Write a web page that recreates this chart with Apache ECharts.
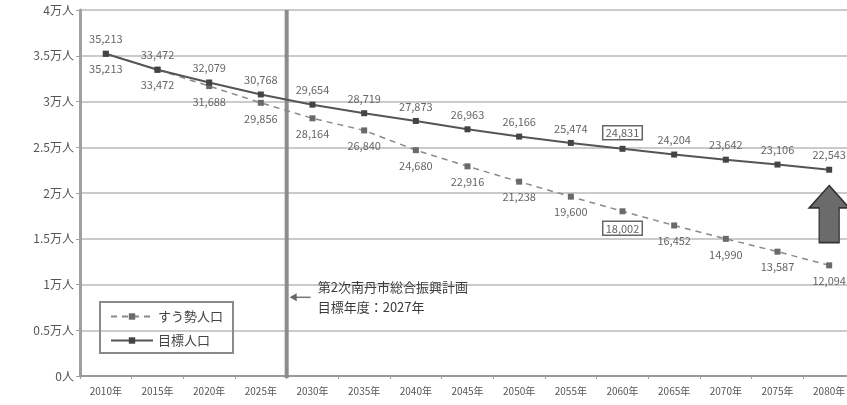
<!DOCTYPE html>
<html>
<head>
<meta charset="utf-8">
<script src="https://cdn.jsdelivr.net/npm/echarts@6/dist/echarts.min.js"></script>
<style>
  html, body { margin: 0; padding: 0; background: #fff; overflow: hidden; }
  #chart { width: 855px; height: 405px; }
</style>
</head>
<body>
<div id="chart"></div>
<script>
// Population outlook, 2010-2080 (the plot runs slightly past the page's right edge)
const years = ['2010年','2015年','2020年','2025年','2030年','2035年','2040年','2045年','2050年','2055年','2060年','2065年','2070年','2075年','2080年'];
const trendPop  = [35213, 33472, 31688, 29856, 28164, 26840, 24680, 22916, 21238, 19600, 18002, 16452, 14990, 13587, 12094];
const targetPop = [35213, 33472, 32079, 30768, 29654, 28719, 27873, 26963, 26166, 25474, 24831, 24204, 23642, 23106, 22543];
const yTickLabels = ['0人','0.5万人','1万人','1.5万人','2万人','2.5万人','3万人','3.5万人','4万人'];
const trendName = 'すう勢人口';
const targetName = '目標人口';
const planTitle = ['第2次南丹市総合振興計画', '目標年度：2027年'];
const highlightYear = '2060年';
const planBoundary = ['2025年', '2030年'];
const planNoteValue = 8600;
const arrowValue = 17700;

const FONT = '"Noto Sans CJK JP", "Noto Sans", sans-serif';
const fmt = v => v.toLocaleString('en-US');

function labelled(values) {
  return values.map((v, i) => {
    const item = { value: v };
    if (years[i] === highlightYear) {
      item.label = { borderColor: '#666', borderWidth: 1.5, padding: [2, 3, 1, 3] };
    }
    return item;
  });
}

const chart = echarts.init(document.getElementById('chart'), null, { renderer: 'canvas' });

chart.setOption({
  animation: false,
  textStyle: { fontFamily: FONT },
  grid: { left: 80, right: 0, top: 10, bottom: 29, containLabel: false },
  legend: {
    orient: 'vertical',
    left: 100, top: 302,
    width: 132, height: 58,
    padding: [8, 10, 6, 10],
    itemGap: 11,
    itemWidth: 42, itemHeight: 8,
    borderColor: '#8a8a8a', borderWidth: 2,
    textStyle: { fontFamily: FONT, fontSize: 13, color: '#444' },
    data: [trendName, targetName]
  },
  xAxis: {
    type: 'category',
    data: years,
    boundaryGap: true,
    axisLine: { lineStyle: { color: '#9a9a9a', width: 2 } },
    axisTick: { show: true, length: 3, lineStyle: { color: '#9a9a9a' } },
    axisLabel: { fontFamily: FONT, fontSize: 10, color: '#555', margin: 10 }
  },
  yAxis: {
    type: 'value',
    min: 0, max: 40000, interval: 5000,
    axisLine: { show: true, lineStyle: { color: '#a0a0a0', width: 3 } },
    axisTick: { show: true, length: 4, lineStyle: { color: '#a0a0a0', width: 1 } },
    axisLabel: {
      fontFamily: FONT, fontSize: 12, color: '#555', margin: 6,
      formatter: v => yTickLabels[Math.round(v / 5000)]
    },
    splitLine: { lineStyle: { color: '#cbcbcb', width: 2 } }
  },
  series: [
    {
      name: trendName,
      type: 'line',
      data: labelled(trendPop),
      symbol: 'rect', symbolSize: 6,
      itemStyle: { color: '#6a6a6a' },
      lineStyle: { color: '#8a8a8a', width: 1.5, type: [6, 5] },
      label: {
        show: true, position: 'bottom', distance: 7,
        fontFamily: FONT, fontSize: 11, color: '#666',
        formatter: p => fmt(p.value)
      },
      z: 3
    },
    {
      name: targetName,
      type: 'line',
      data: labelled(targetPop),
      symbol: 'rect', symbolSize: 6,
      itemStyle: { color: '#444' },
      lineStyle: { color: '#555', width: 2 },
      label: {
        show: true, position: 'top', distance: 6,
        fontFamily: FONT, fontSize: 11, color: '#666',
        formatter: p => fmt(p.value)
      },
      markPoint: {
        silent: true,
        symbol: 'path://M20,0 L40,22 L30,22 L30,56 L10,56 L10,22 L0,22 Z',
        symbolSize: [40, 57],
        symbolKeepAspect: false,
        itemStyle: { color: '#6b6b6b', borderColor: '#333', borderWidth: 1.5 },
        label: { show: false },
        data: [{ coord: [years[years.length - 1], arrowValue] }]
      },
      z: 4
    }
  ]
});

// Plan boundary line and note, positioned through the axes' own scales
const xa = chart.convertToPixel({ xAxisIndex: 0 }, planBoundary[0]);
const xb = chart.convertToPixel({ xAxisIndex: 0 }, planBoundary[1]);
const xLine = (xa + xb) / 2;
const yTop = chart.convertToPixel({ yAxisIndex: 0 }, 40000);
const yBottom = chart.convertToPixel({ yAxisIndex: 0 }, 0);
const yNote = chart.convertToPixel({ yAxisIndex: 0 }, planNoteValue);

chart.setOption({
  graphic: [
    {
      type: 'line', silent: true, z: 2,
      shape: { x1: xLine, y1: yTop, x2: xLine, y2: yBottom + 2 },
      style: { stroke: '#8c8c8c', lineWidth: 4 }
    },
    {
      type: 'line', silent: true, z: 5,
      shape: { x1: xLine + 6, y1: yNote, x2: xLine + 24, y2: yNote },
      style: { stroke: '#777', lineWidth: 1.5 }
    },
    {
      type: 'polygon', silent: true, z: 5,
      shape: { points: [[xLine + 3, yNote], [xLine + 10, yNote - 4], [xLine + 10, yNote + 4]] },
      style: { fill: '#666' }
    },
    {
      type: 'text', silent: true, z: 5,
      x: xLine + 31, y: yNote - 20,
      style: {
        text: planTitle.join('\n'),
        font: '13px ' + FONT,
        fill: '#3a3a3a',
        lineHeight: 20
      }
    }
  ]
});
</script>
</body>
</html>
